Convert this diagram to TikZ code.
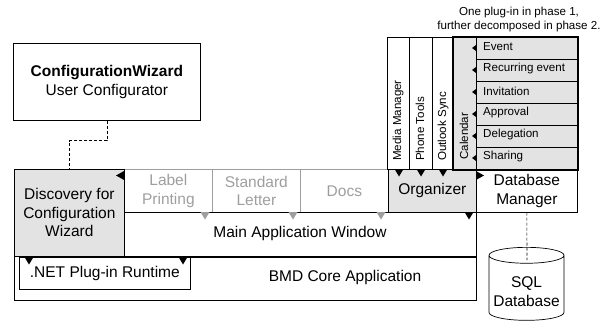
\documentclass[tikz,border=0pt]{standalone}
\usepackage{fontspec}
\setmainfont{Liberation Sans}
\usetikzlibrary{shapes.geometric}
\definecolor{shade}{gray}{0.89}
\definecolor{faded}{gray}{0.62}
\tikzset{x=1pt,y=-1pt,
  bigtext/.style={font=\fontsize{15.5}{18.5}\selectfont},
  smalltext/.style={font=\fontsize{11.6}{14}\selectfont},
  box/.style={draw=black,line width=0.7pt,inner sep=0pt,align=center,bigtext,anchor=north west},
  graybox/.style={box,draw=faded,text=faded},
  tri/.style={fill=black,draw=none},
  gtri/.style={fill=faded,draw=none},
  lab/.style={inner sep=0pt,align=center},
  dashline/.style={dashed,line width=0.6pt,dash pattern=on 3pt off 2pt}}
\newcommand{\dn}[3][tri]{\fill[#1] (#2-4.5,#3) -- (#2+4.5,#3) -- (#2,#3+7.5) -- cycle;}
\newcommand{\lf}[2]{\fill[tri] (#1,#2-3) -- (#1,#2+3) -- (#1-4,#2) -- cycle;}
\begin{document}
\begin{tikzpicture}
\useasboundingbox (0,0) rectangle (609,323);
% core
\node[box,minimum width=462pt,minimum height=44pt] (core) at (14,256) {};
\node[lab,bigtext] (corelab) at (345,277) {BMD Core Application};
% main window
\node[box,minimum width=352pt,minimum height=45pt] (main) at (124,212) {};
\node[lab,bigtext] (mainlab) at (300,233) {Main Application Window};
% gray plugins
\node[graybox,minimum width=88pt,minimum height=43pt] (label) at (124,169) {Label\\Printing};
\node[graybox,minimum width=88pt,minimum height=43pt] (std) at (212,169) {Standard\\Letter};
\node[graybox,minimum width=88pt,minimum height=43pt] (docs) at (300,169) {Docs};
\draw[line width=0.7pt] (main.north west) -- (main.north east);
% discovery
\node[box,fill=shade,minimum width=110pt,minimum height=87pt] (disc) at (14,169) {Discovery for\\Configuration\\Wizard};
% runtime
\node[box,minimum width=171pt,minimum height=32pt] (rt) at (19,257) {.NET Plug-in Runtime};
\draw[line width=0.7pt] (core.north west) -- (core.north east);
% organizer
\node[box,fill=shade,minimum width=88pt,minimum height=43pt] (org) at (388,169) {Organizer};
% db manager
\node[box,minimum width=101pt,minimum height=43pt] (dbm) at (476,169) {Database\\Manager};
% config wizard
\node[box,minimum width=187pt,minimum height=77pt] (cw) at (13,43) {\textbf{ConfigurationWizard}\\User Configurator};
\draw[dashline] (cw.south) -- ++(0,20) -| (disc.north);
% vertical plugins
\foreach \n/\x/\w/\t in {mm/387/22/Media Manager,pt/409/23/Phone Tools,os/432/21/Outlook Sync}{
  \node[box,minimum width=\w pt,minimum height=132pt] (\n) at (\x,37) {};
  \node[lab,rotate=90,anchor=west,smalltext] (\n t) at (\x+11,161) {\t};
}
% calendar
\node[box,fill=shade,minimum width=124pt,minimum height=132pt] (cal) at (453,37) {};
\node[lab,rotate=90,anchor=west,smalltext] (calt) at (464,160) {Calendar};
\foreach \n/\y/\t in {0/37/Event,1/59/Recurring event,2/81/Invitation,3/103/Approval,4/125/Delegation,5/147/Sharing}{
  \node[box,fill=shade,minimum width=101pt,minimum height=22pt] (p\n) at (476,\y) {};
  \node[lab,anchor=west,smalltext] (pt\n) at (483,\y+10) {\t};
  \lf{476}{\y+11}
}
\draw[line width=1.6pt] (cal.north west) rectangle (cal.south east);
% triangles
\dn[gtri]{205}{212}\dn[gtri]{293}{212}\dn[gtri]{381}{212}
\dn{469}{212}
\dn{399}{169}\dn{421}{169}\dn{443}{169}
\dn{29}{257}\dn{183}{257}
\fill[tri] (124,171) -- (124,180) -- (116,175.5) -- cycle;
\fill[tri] (476,171) -- (476,180) -- (484,175.5) -- cycle;
% database
\node[cylinder,shape border rotate=90,draw,line width=0.7pt,aspect=0.24,minimum width=75pt,minimum height=73pt,inner sep=0pt,align=center,bigtext] (db) at (526.5,288) {\phantom{SQL}\\\phantom{Database}};
\node[lab,bigtext] (dbt) at (526.5,291.5) {SQL\\Database};
\coordinate (dbend) at (527,260);
\draw[dashline] (dbm.south) -- (dbend);
% note
\node[lab,font=\fontsize{11.6}{14.7}\selectfont] (note) at (519,19.5) {One plug-in in phase 1,\\further decomposed in phase 2.};
\end{tikzpicture}
\end{document}
